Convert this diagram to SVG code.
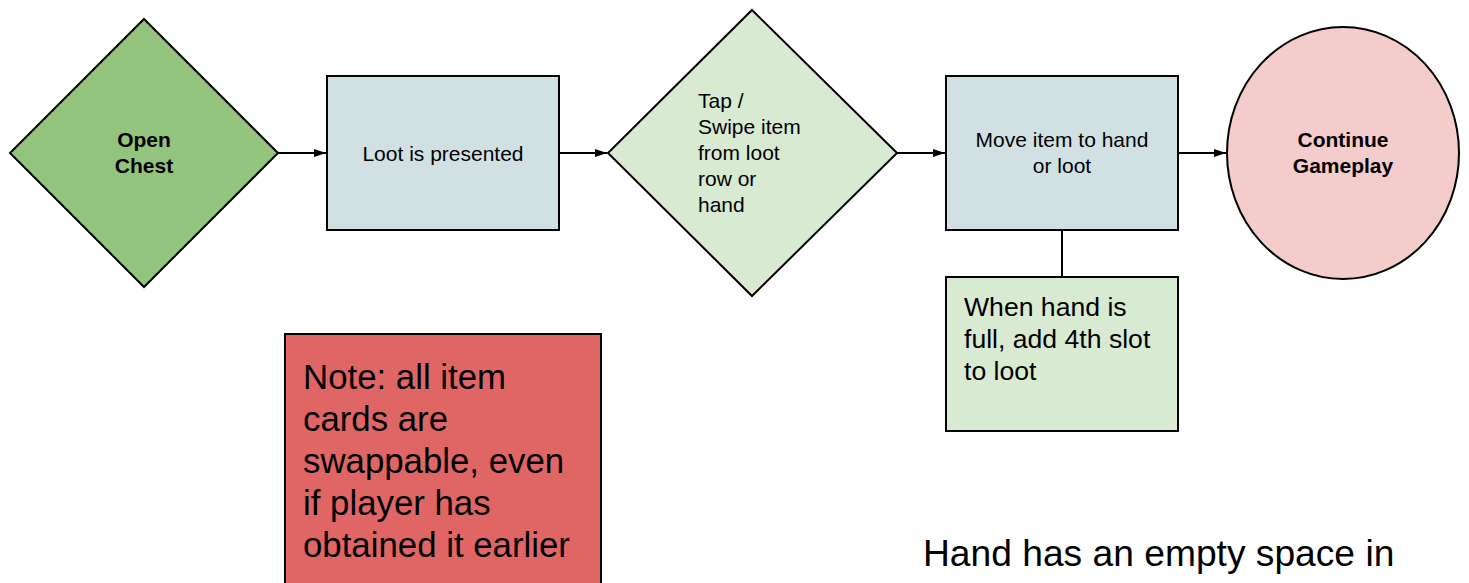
<svg xmlns="http://www.w3.org/2000/svg" width="1469" height="583" viewBox="0 0 1469 583">
  <style>
    .shape { stroke: #000; stroke-width: 2; }
    .t { font-family: "Liberation Sans", Arial, sans-serif; fill: #000; }
    .s21 { font-size: 21px; }
    .b { font-weight: bold; }
    .mid { text-anchor: middle; }
    .conn { stroke: #000; stroke-width: 2; fill: none; }
  </style>
  <defs>
    <marker id="arrow" viewBox="0 0 12 8" refX="12" refY="4" markerWidth="6" markerHeight="4" orient="auto" markerUnits="strokeWidth">
      <path d="M0,0 L12,4 L0,8 z" fill="#000"/>
    </marker>
  </defs>
  <rect width="1469" height="583" fill="#fff"/>

  <g id="connectors">
    <line class="conn" x1="278" y1="153" x2="326" y2="153" marker-end="url(#arrow)"/>
    <line class="conn" x1="559" y1="153" x2="607" y2="153" marker-end="url(#arrow)"/>
    <line class="conn" x1="897" y1="153" x2="945" y2="153" marker-end="url(#arrow)"/>
    <line class="conn" x1="1178" y1="153" x2="1226" y2="153" marker-end="url(#arrow)"/>
    <line class="conn" x1="1062" y1="230" x2="1062" y2="277"/>
  </g>

  <g id="open-chest">
    <polygon class="shape" points="144,19 278,153 144,287 10,153" fill="#93c47d"/>
    <text class="t s21 b mid" x="144" y="147">Open</text>
    <text class="t s21 b mid" x="144" y="173">Chest</text>
  </g>

  <g id="loot-presented">
    <rect class="shape" x="327" y="76" width="232" height="154" fill="#d0e0e3"/>
    <text class="t s21 mid" x="443" y="161">Loot is presented</text>
  </g>

  <g id="tap-swipe">
    <polygon class="shape" points="752,10 897,153 752,296 608,153" fill="#d9ead3"/>
    <text class="t s21" x="698" y="108">Tap /</text>
    <text class="t s21" x="698" y="134">Swipe item</text>
    <text class="t s21" x="698" y="160">from loot</text>
    <text class="t s21" x="698" y="186">row or</text>
    <text class="t s21" x="698" y="212">hand</text>
  </g>

  <g id="move-item">
    <rect class="shape" x="946" y="76" width="232" height="154" fill="#d0e0e3"/>
    <text class="t s21 mid" x="1062" y="147">Move item to hand</text>
    <text class="t s21 mid" x="1062" y="173">or loot</text>
  </g>

  <g id="continue-gameplay">
    <ellipse class="shape" cx="1343" cy="153" rx="116" ry="126" fill="#f4cccc"/>
    <text class="t s21 b mid" x="1343" y="147">Continue</text>
    <text class="t s21 b mid" x="1343" y="173">Gameplay</text>
  </g>

  <g id="hand-full">
    <rect class="shape" x="946" y="277" width="232" height="154" fill="#d9ead3"/>
    <text class="t" font-size="26.6" x="964" y="316">When hand is</text>
    <text class="t" font-size="26.6" x="964" y="348">full, add 4th slot</text>
    <text class="t" font-size="26.6" x="964" y="380">to loot</text>
  </g>

  <g id="note">
    <rect class="shape" x="285" y="334" width="316" height="260" fill="#e06666"/>
    <text class="t" font-size="34.8" x="303" y="389">Note: all item</text>
    <text class="t" font-size="34.8" x="303" y="431">cards are</text>
    <text class="t" font-size="34.8" x="303" y="473">swappable, even</text>
    <text class="t" font-size="34.8" x="303" y="515">if player has</text>
    <text class="t" font-size="34.8" x="303" y="557">obtained it earlier</text>
  </g>

  <g id="empty-space">
    <text class="t" font-size="37.2" x="923" y="566">Hand has an empty space in</text>
  </g>
</svg>
